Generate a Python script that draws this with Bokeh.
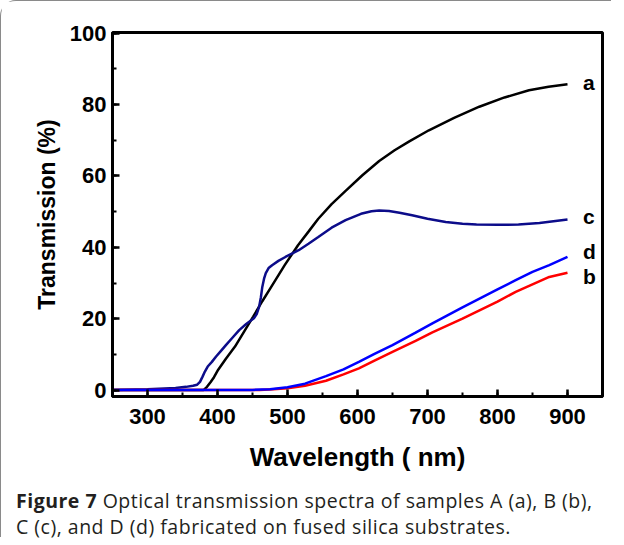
from bokeh.plotting import figure
from bokeh.models import Range1d, SingleIntervalTicker, Label, Div
from bokeh.layouts import column
from bokeh.embed import file_html
from bokeh.resources import INLINE

# ---- data ----
a_wl = [250, 300, 350, 380, 385, 390, 395, 401, 412, 425, 438, 451, 464, 477, 496, 515, 530, 544, 563, 583,
        607, 631, 653, 674, 702, 738, 774, 810, 845, 873, 900]
a_T = [0, 0, 0, 0, 0.9, 2.2, 3.6, 5.7, 8.8, 12.2, 16.4, 20.6, 24.9, 29.0, 35.0, 40.6, 44.4, 48.0, 52.1, 55.8,
       60.2, 64.2, 67.2, 69.7, 72.8, 76.3, 79.4, 82.0, 84.0, 85.0, 85.7]

c_wl = [250, 300, 340, 355, 365, 371, 375, 378.5, 382, 386, 392, 398, 405, 412, 421, 431, 441, 452, 456, 459.4,
        462, 464, 466.5, 469, 473, 478, 487, 497, 507, 516, 530, 544, 563, 583, 605, 620, 631, 645, 660, 678,
        700, 726, 750, 770, 800, 830, 860, 900]
c_T = [0, 0.2, 0.6, 0.9, 1.2, 1.5, 2.3, 3.7, 5.2, 6.6, 7.9, 9.4, 11.0, 12.6, 14.6, 16.8, 18.5, 20.1, 21.3, 23.3,
       26.0, 28.9, 31.2, 32.8, 34.2, 35.0, 36.2, 37.3, 38.3, 39.2, 41.0, 42.9, 45.5, 47.6, 49.4, 50.1, 50.3, 50.2,
       49.7, 49.0, 48.0, 47.1, 46.6, 46.4, 46.3, 46.4, 46.8, 47.8]

b_wl = [250, 400, 460, 480, 500, 525, 555, 580, 602, 625, 650, 683, 707, 750, 800, 826, 850, 874, 900]
b_T = [0, 0, 0.05, 0.2, 0.5, 1.2, 2.6, 4.4, 6.1, 8.3, 10.7, 13.8, 16.2, 20.0, 24.8, 27.5, 29.6, 31.7, 32.9]

d_wl = [250, 400, 450, 475, 500, 525, 555, 580, 602, 625, 650, 683, 707, 750, 800, 826, 850, 874, 900]
d_T = [0, 0, 0.05, 0.25, 0.8, 1.8, 3.9, 5.8, 7.9, 10.2, 12.6, 16.1, 18.7, 23.2, 28.2, 30.8, 33.1, 35.0, 37.3]

curve_names = ["a", "b", "c", "d"]
curve_label_T = [86.3, 31.8, 48.6, 38.8]
label_wl = 922

x_ticks_interval = 100
y_ticks_interval = 20

FONT = "Liberation Sans"

p = figure(width=604, height=482,
           x_range=Range1d(250, 950), y_range=Range1d(-1.8, 100.2),
           output_backend="svg", toolbar_location=None,
           min_border_left=111, min_border_right=3, min_border_top=31, min_border_bottom=87)
p.grid.visible = False
p.background_fill_color = "white"
p.border_fill_color = "white"
p.outline_line_color = "black"
p.outline_line_width = 3

p.xaxis.ticker = SingleIntervalTicker(interval=x_ticks_interval, num_minor_ticks=2)
p.yaxis.ticker = SingleIntervalTicker(interval=y_ticks_interval, num_minor_ticks=2)

for ax in p.axis:
    ax.axis_line_width = 3
    ax.axis_line_color = "black"
    ax.major_tick_in = 7
    ax.major_tick_out = 0
    ax.minor_tick_in = 4
    ax.minor_tick_out = 0
    ax.major_tick_line_width = 2.5
    ax.minor_tick_line_width = 2
    ax.major_label_text_font = FONT
    ax.major_label_text_font_style = "bold"
    ax.major_label_text_font_size = "22px"
    ax.major_label_text_color = "black"
    ax.axis_label_text_font = FONT
    ax.axis_label_text_font_style = "bold"
    ax.axis_label_text_color = "black"

p.xaxis.major_label_standoff = 12
p.yaxis.major_label_standoff = 6
p.xaxis.axis_label = "Wavelength ( nm)"
p.xaxis.axis_label_text_font_size = "26px"
p.xaxis.axis_label_standoff = 15
p.yaxis.axis_label = "Transmission (%)"
p.yaxis.axis_label_text_font_size = "23px"
p.yaxis.axis_label_standoff = 7

p.line(a_wl, a_T, line_color="black", line_width=2.5)
p.line(c_wl, c_T, line_color="#0c0c8a", line_width=2.5)
p.line(b_wl, b_T, line_color="#ff0000", line_width=2.5)
p.line(d_wl, d_T, line_color="#0000ff", line_width=2.5)

for name, t in zip(curve_names, curve_label_T):
    p.add_layout(Label(x=label_wl, y=t, text=name, text_font=FONT, text_font_style="bold",
                       text_font_size="21px", text_baseline="middle", text_align="left",
                       text_color="black"))

cap = Div(text='<div style="margin-left:10px">'
               '<b>Figure 7</b> Optical transmission spectra of samples A (a), B (b),<br>'
               'C (c), and D (d) fabricated on fused silica substrates.</div>',
          width=600, height=44,
          styles={"font-family": "Open Sans", "font-size": "19.5px", "color": "#231f20",
                  "line-height": "26px", "letter-spacing": "0.5px", "white-space": "nowrap"})

layout = column(p, cap,
                styles={"border-left": "1.5px solid #8a8a8a", "border-top": "1.5px solid #8a8a8a",
                        "border-top-left-radius": "16px"})

open("out.html", "w").write(file_html(layout, INLINE))
